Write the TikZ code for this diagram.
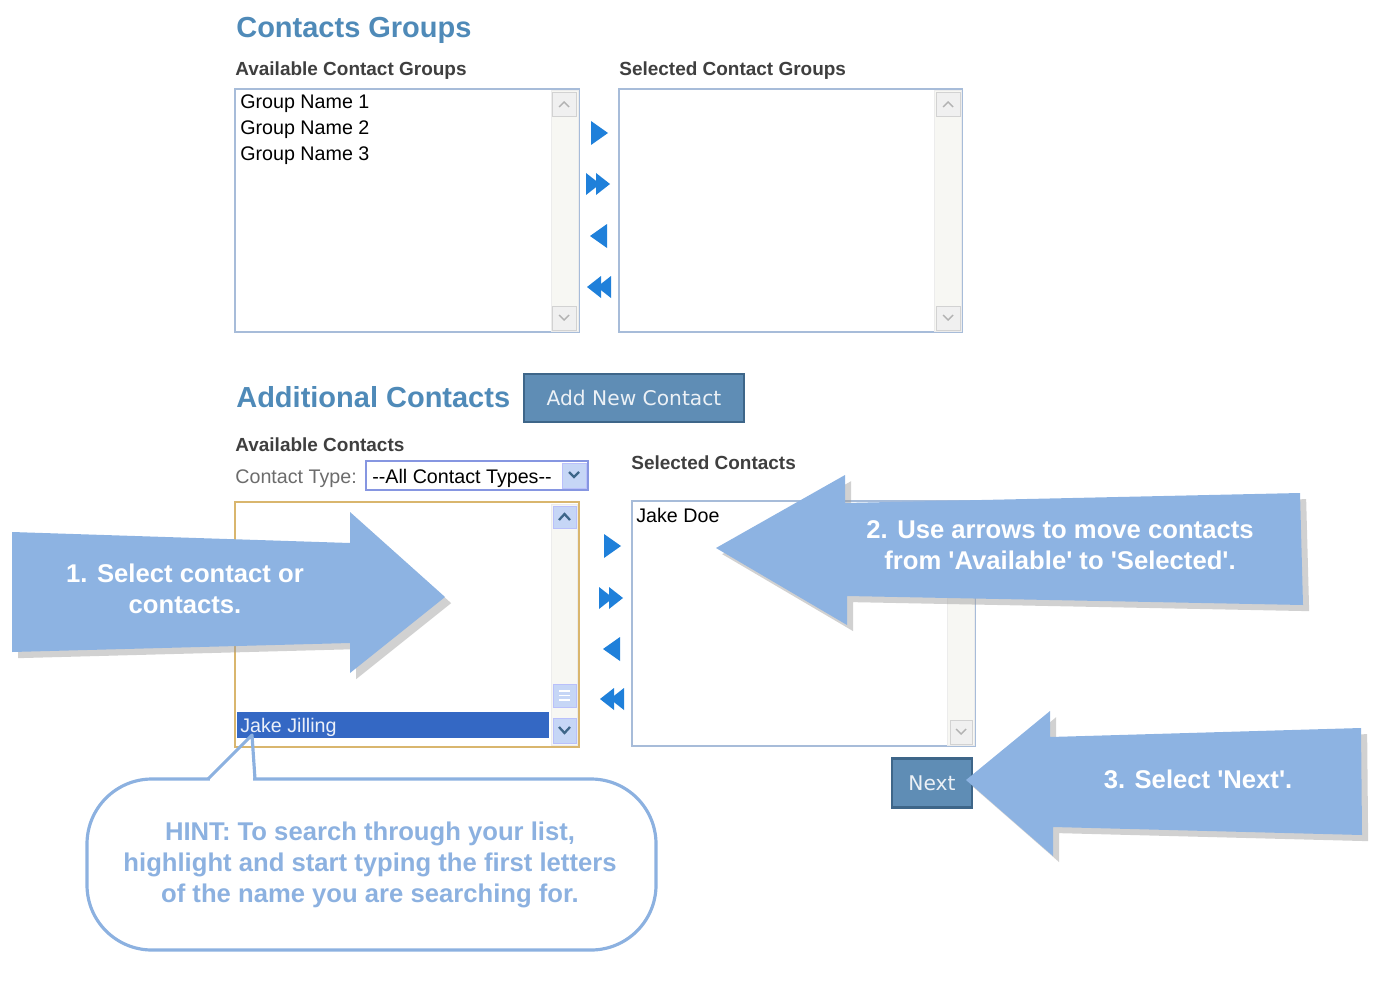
\documentclass[tikz,border=0pt]{standalone}
\usepackage{fontspec}
\setmainfont{Liberation Sans}[Ligatures=TeXOff]
\newfontfamily\webfont{DejaVu Sans}
\usetikzlibrary{shadows}

\definecolor{headblue}{HTML}{4F8AB8}
\definecolor{btnblue}{HTML}{5F8DB5}
\definecolor{btnedge}{HTML}{3E6689}
\definecolor{tipblue}{HTML}{8DB3E2}
\definecolor{hintblue}{HTML}{8CB1E0}
\definecolor{boxedge}{HTML}{A7BCD9}
\definecolor{goldedge}{HTML}{D9B66E}
\definecolor{movblue}{HTML}{1F80DA}
\definecolor{pickblue}{HTML}{3468C4}
\definecolor{labelgray}{HTML}{3F3F3F}
\definecolor{scrollblue}{HTML}{C6D6F6}
\definecolor{trackgray}{HTML}{F7F7F3}

\newcommand{\headfont}{\fontsize{16.5}{19}\selectfont\bfseries}
\newcommand{\lblfont}{\fontsize{10.8}{13}\selectfont\bfseries}
\newcommand{\itemfont}{\fontsize{11.2}{13}\selectfont}
\newcommand{\callfont}{\fontsize{14.6}{17.6}\selectfont\bfseries}

\tikzstyle{heading} = [anchor=base west, inner sep=0pt, text=headblue, font=\headfont]
\tikzstyle{fieldlabel} = [anchor=base west, inner sep=0pt, text=labelgray, font=\lblfont]
\tikzstyle{itemtext} = [anchor=base west, inner sep=0pt, text=black, font=\itemfont]
\tikzstyle{listbox} = [draw=boxedge, line width=0.9pt, fill=white]
\tikzstyle{track} = [draw=gray!15, fill=trackgray, line width=0.4pt]
\tikzstyle{scrollbtn} = [draw=gray!35, fill=gray!12, line width=0.5pt]
\tikzstyle{bluebtn} = [draw=scrollblue!70!blue!60, fill=scrollblue, line width=0.5pt]
\tikzstyle{chev} = [draw=gray!60, line width=0.8pt]
\tikzstyle{bluechev} = [draw=btnedge, line width=1.3pt]
\tikzstyle{webbtn} = [fill=btnblue, draw=btnedge, line width=1.2pt, text=white!88!btnblue,
                      font=\webfont\fontsize{11.5}{13}\selectfont]
\tikzstyle{bigarrow} = [fill=tipblue, drop shadow={shadow xshift=3.5pt, shadow yshift=-3.5pt,
                        fill=gray!80, opacity=0.45}]
\tikzstyle{calltext} = [text=white, font=\callfont, align=center]
\tikzstyle{hintline} = [draw=hintblue, line width=1.8pt]
\tikzstyle{movebtn} = [fill=movblue]

\tikzset{
  mvone/.pic={\fill[movebtn] (-8,-12) -- (9,0) -- (-8,12) -- cycle;},
  mvtwo/.pic={\fill[movebtn] (-12,-11) -- (2,0) -- (-12,11) -- cycle;
              \fill[movebtn] (-2,-11) -- (12,0) -- (-2,11) -- cycle;}
}

\begin{document}
\begin{tikzpicture}[x=0.02cm, y=-0.02cm]
  \useasboundingbox (0,0) rectangle (1385,993);

  % Contact groups
  \node[heading] (cgtitle) at (236,38) {Contacts Groups};
  \node[fieldlabel] (avgrplbl) at (235,76) {Available Contact Groups};
  \node[fieldlabel] (selgrplbl) at (619,76) {Selected Contact Groups};

  \draw[listbox] (235,89) rectangle (579,332);
  \draw[track] (551,90.5) rectangle (578,331);
  \draw[scrollbtn] (552,92) rectangle (576,116);
  \draw[chev] (559,107) -- (564,102) -- (569,107);
  \draw[scrollbtn] (552,306) rectangle (576,330);
  \draw[chev] (559,315) -- (564,320) -- (569,315);
  \node[itemtext] (grp1) at (240,109) {Group Name 1};
  \node[itemtext] (grp2) at (240,135) {Group Name 2};
  \node[itemtext] (grp3) at (240,161) {Group Name 3};

  \draw[listbox] (619,89) rectangle (962,332);
  \draw[track] (934,90.5) rectangle (961,331);
  \draw[scrollbtn] (936,92) rectangle (960,116);
  \draw[chev] (943,107) -- (948,102) -- (953,107);
  \draw[scrollbtn] (936,306) rectangle (960,330);
  \draw[chev] (943,315) -- (948,320) -- (953,315);

  \pic at (599,133) {mvone};
  \pic at (598,184) {mvtwo};
  \pic[xscale=-1] at (599,236) {mvone};
  \pic[xscale=-1] at (599,287) {mvtwo};

  % Additional contacts
  \node[heading] (actitle) at (236,407) {Additional Contacts};
  \node[webbtn, minimum width=4.4cm, minimum height=0.96cm] (addbtn) at (634,398) {Add New Contact};

  \node[fieldlabel] (avctlbl) at (235,451) {Available Contacts};
  \node[anchor=base west, inner sep=0pt, text=gray!85!black, font=\itemfont] (typelbl) at (235,483) {Contact Type:};
  \draw[draw=boxedge!80!blue, line width=0.8pt, fill=white] (366,461) rectangle (588,490);
  \node[itemtext] (typesel) at (372,483) {-\kern0pt-All Contact Types-\kern0pt-};
  \draw[bluebtn] (562,463) rectangle (586,488);
  \draw[bluechev] (569,472) -- (574,477) -- (579,472);
  \node[fieldlabel] (selctlbl) at (631,469) {Selected Contacts};

  \draw[listbox, draw=goldedge, line width=1.3pt] (235,502) rectangle (579,747);
  \draw[track] (551,504) rectangle (577,745);
  \draw[bluebtn] (553,506) rectangle (576,528);
  \draw[bluechev] (559,520) -- (564.5,514) -- (570,520);
  \draw[bluebtn] (553,684) rectangle (576,707);
  \draw[white, line width=0.8pt] (559,691) -- (570,691) (559,695.5) -- (570,695.5) (559,700) -- (570,700);
  \draw[bluebtn] (553,718) rectangle (576,743);
  \draw[bluechev] (559,727) -- (564.5,733) -- (570,727);
  \fill[pickblue] (237,712) rectangle (549,738);
  \node[itemtext, text=white!90!pickblue] (jilling) at (240,732) {Jake Jilling};

  \pic at (612,546) {mvone};
  \pic at (611,598) {mvtwo};
  \pic[xscale=-1] at (612,649) {mvone};
  \pic[xscale=-1] at (612,699) {mvtwo};

  \draw[listbox] (632,501) rectangle (975,746);
  \draw[track] (947,502.5) rectangle (974,745);
  \draw[scrollbtn] (950,720) rectangle (972,744);
  \draw[chev] (956,729) -- (961,734) -- (966,729);
  \node[itemtext] (jakedoe) at (636,522) {Jake Doe};

  \node[webbtn, minimum width=1.6cm, minimum height=0.98cm] (nextbtn) at (932,783) {Next};

  % Callout arrows
  \path[bigarrow] (12,532) -- (350,543) -- (350,512) -- (445,597) -- (350,673)
    -- (350,643) -- (12,652) -- cycle;
  \node[calltext] (step1) at (185,589) {1. Select contact or\\contacts.};

  \path[bigarrow] (716,548) -- (845,475) -- (845,503) -- (1300,493) -- (1303,605)
    -- (847,596) -- (847,625) -- cycle;
  \node[calltext] (step2) at (1060,545) {2. Use arrows to move contacts\\from 'Available' to 'Selected'.};

  \path[bigarrow] (966,780) -- (1050,711) -- (1050,737) -- (1361,728) -- (1362,835)
    -- (1053,827) -- (1053,856) -- cycle;
  \node[calltext] (step3) at (1198,779) {3. Select 'Next'.};

  % Hint bubble
  \draw[hintline, rounded corners=1.3cm] (87,779) rectangle (656,950);
  \fill[white] (210,775) rectangle (253,783);
  \draw[hintline, line join=round] (208,779) -- (252,735) -- (255,779);
  \node[calltext, text=hintblue] (hint) at (370,865)
    {HINT: To search through your list,\\highlight and start typing the first letters\\of the name you are searching for.};
\end{tikzpicture}
\end{document}
